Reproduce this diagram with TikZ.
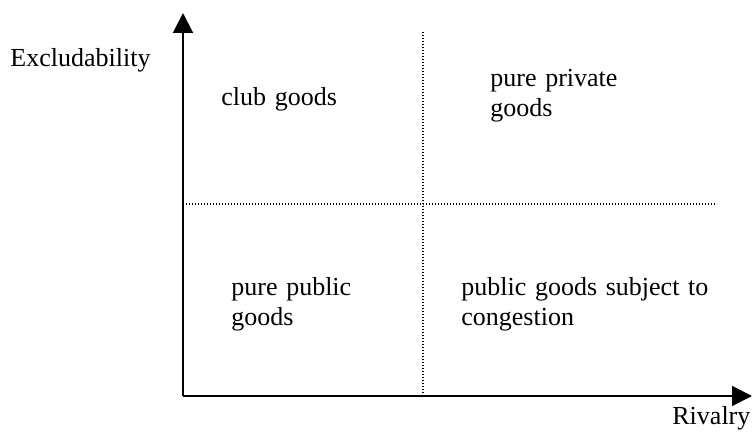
\documentclass[tikz,border=0pt]{standalone}
\usepackage{fontspec}
\setmainfont{Liberation Serif}
\usetikzlibrary{arrows.meta}

\begin{document}
\begin{tikzpicture}[x=0.5pt, y=-0.5pt,
  axis/.style={line width=1pt, -{Triangle[length=10pt,width=10pt]}},
  divider/.style={line width=0.6pt, dash pattern=on 0.6pt off 0.9pt},
  label/.style={inner sep=0pt, anchor=base west, font=\fontsize{13}{15}\selectfont},
  goods/.style={label, text width=150pt, align=left}]
\useasboundingbox (0,0) rectangle (752,432);
%\draw [help lines, step=50] (0,0) grid (752,432);

\coordinate (o)     at (183,396);
\coordinate (ytip)  at (183,13);
\coordinate (xtip)  at (752,396);
\coordinate (vtop)  at (423,32);
\coordinate (vbot)  at (423,396);
\coordinate (hleft) at (183,204);
\coordinate (hright) at (717,204);

\node[label] (excl) at (10,67)   {Excludability};
\node[label] (riv)  at (672,425) {Rivalry};

\node[goods] (club)    at (221,106) {club goods};
\node[goods] (private) at (490,87)  {pure private\\goods};
\node[goods] (public)  at (231,296) {pure public\\goods};
\node[goods] (congest) at (461,296) {public goods subject to\\congestion};

% Axes
\draw[axis] (o) -- (ytip);
\draw[axis] (o) -- (xtip);

% Dividers
\draw[divider] (vtop) -- (vbot);
\draw[divider] (hleft) -- (hright);

\end{tikzpicture}
\end{document}
